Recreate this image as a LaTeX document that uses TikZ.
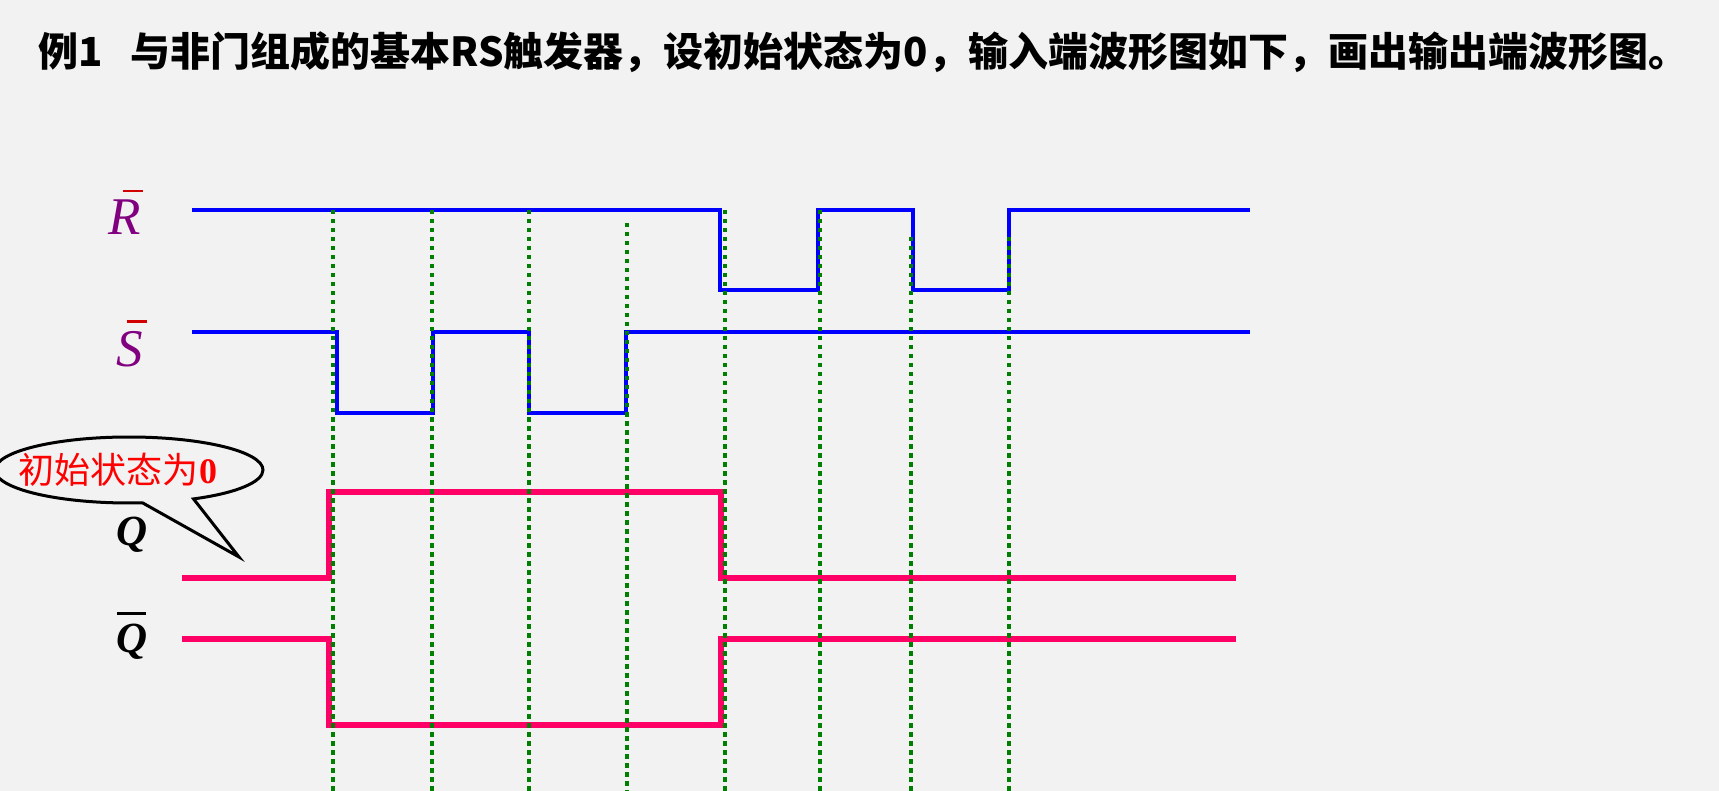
\documentclass[tikz,border=0pt]{standalone}
\usepackage{fontspec}
\setmainfont{Liberation Serif}
\newfontfamily\cjk{Noto Sans CJK SC}
\usetikzlibrary{shapes.callouts}
\definecolor{bgray}{RGB}{242,242,242}
\definecolor{sigblue}{RGB}{0,0,255}
\definecolor{outpink}{RGB}{255,0,102}
\definecolor{markgreen}{RGB}{0,128,0}
\definecolor{lblpurple}{RGB}{128,0,128}
\definecolor{barred}{RGB}{210,0,0}
\begin{document}
\begin{tikzpicture}[x=1pt, y=-1pt,
		inwave/.style={sigblue, line width=4.5pt},
		outwave/.style={outpink, line width=5.5pt},
		marker/.style={markgreen, line width=4.5pt, dash pattern=on 4.5pt off 4.5pt},
		siglabel/.style={inner sep=0pt, anchor=base, lblpurple, font=\fontsize{53pt}{60pt}\selectfont\itshape},
		outlabel/.style={inner sep=0pt, anchor=base, font=\fontsize{43pt}{50pt}\selectfont\bfseries\itshape},
		overbar/.style={line width=2.8pt}
		]
	\path[use as bounding box, fill=bgray] (0,0) rectangle (1719,791);
	\node [anchor=west, inner sep=0pt, font=\cjk\bfseries\fontsize{40pt}{48pt}\selectfont] (title) at (38,52)
	  {例1\hspace{0.7em}与非门组成的基本RS触发器，设初始状态为0，输入端波形图如下，画出输出端波形图。};
	% signal names
	\node [siglabel] (lblR) at (125,235) {R};
	\node [siglabel] (lblS) at (130,367) {S};
	\node [outlabel] (lblQ) at (132,545) {Q};
	\node [outlabel] (lblQn) at (132,652) {Q};
	\draw [overbar, barred] ([xshift=-2pt,yshift=9pt]lblR.north) -- ([xshift=18pt,yshift=9pt]lblR.north);
	\draw [overbar, barred] ([xshift=-3pt,yshift=10pt]lblS.north) -- ([xshift=17pt,yshift=10pt]lblS.north);
	\draw [overbar, black] ([xshift=-15pt,yshift=10pt]lblQn.north) -- ([xshift=14pt,yshift=10pt]lblQn.north);
	% inputs
	\draw [inwave] (192,210) -- (720,210) -- (720,290) -- (818,290) -- (818,210) -- (913,210)
	  -- (913,290) -- (1009,290) -- (1009,210) -- (1250,210);
	\draw [inwave] (192,332) -- (337,332) -- (337,413) -- (433,413) -- (433,332) -- (529,332)
	  -- (529,413) -- (626,413) -- (626,332) -- (1250,332);
	% outputs
	\draw [outwave] (182,578) -- (329,578) -- (329,492) -- (721,492) -- (721,578) -- (1236,578);
	\draw [outwave] (182,639) -- (329,639) -- (329,725) -- (721,725) -- (721,639) -- (1236,639);
	% edges
	\foreach \tx/\ty in {333/210, 432/210, 529/210, 627/223, 725/210, 820/210, 911/237, 1009/237}
	  \draw [marker] (\tx,\ty) -- (\tx,791);
	% note
	\coordinate (tip) at (239,557);
	\node [ellipse callout, draw, line width=3pt, callout absolute pointer={(tip)}, callout pointer arc=23,
	  minimum width=268pt, minimum height=66pt, inner sep=0pt, text=red,
	  font=\cjk\fontsize{36pt}{42pt}\selectfont] (note) at (129,470) {\hspace*{-22pt}初始状态为{\rmfamily\bfseries 0}};
\end{tikzpicture}
\end{document}
